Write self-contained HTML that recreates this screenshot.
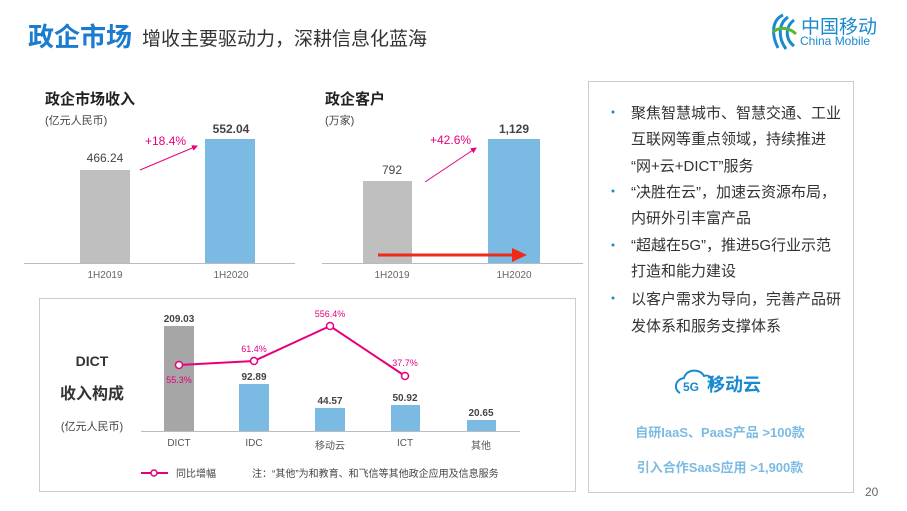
<!DOCTYPE html><html><head><meta charset="utf-8"><style>
body{margin:0;width:907px;height:511px;background:#fff;overflow:hidden;position:relative;font-family:"Liberation Sans","Noto Sans CJK SC",sans-serif}
.a{position:absolute;white-space:nowrap}
</style></head><body>
<div class="a" style="left:28px;top:17px;font-size:26px;font-weight:bold;color:#1a7bd0">政企市场</div>
<div class="a" style="left:142px;top:24px;font-size:19px;color:#333">增收主要驱动力，深耕信息化蓝海</div>
<svg class="a" style="left:768px;top:12px" width="30" height="40"><path d="M15 3 C4 8 3 22 10 36 M20 5 C10 12 10 26 18 37 M26 8 C16 16 18 28 26 34" stroke="#1a8ad0" stroke-width="3" fill="none"/><path d="M5 20 C12 14 22 16 28 22" stroke="#5cb531" stroke-width="3" fill="none"/></svg>
<div class="a" style="left:801px;top:12px;font-size:19px;color:#1a8ad0">中国移动</div>
<div class="a" style="left:800px;top:34px;font-size:12px;color:#1a8ad0">China Mobile</div>

<div class="a" style="left:45px;top:88px;font-size:15px;font-weight:bold;color:#222">政企市场收入</div>
<div class="a" style="left:45px;top:112px;font-size:11px;color:#444">(亿元人民币)</div>
<div class="a" style="left:325px;top:88px;font-size:15px;font-weight:bold;color:#222">政企客户</div>
<div class="a" style="left:325px;top:112px;font-size:11px;color:#444">(万家)</div>

<svg class="a" style="left:0;top:0" width="907" height="511">
<defs><marker id="m" markerWidth="6" markerHeight="6" refX="5" refY="3" orient="auto"><path d="M0,0 L6,3 L0,6z" fill="#e6007e"/></marker></defs>
<rect x="80" y="170" width="50" height="93" fill="#bfbfbf"/>
<rect x="205" y="139" width="50" height="124" fill="#7bbbe3"/>
<line x1="24" y1="263.5" x2="295" y2="263.5" stroke="#bbb"/>
<line x1="140" y1="170" x2="197" y2="146" stroke="#e6007e" marker-end="url(#m)"/>
<rect x="363" y="181" width="49" height="82" fill="#bfbfbf"/>
<rect x="488" y="139" width="52" height="124" fill="#7bbbe3"/>
<line x1="322" y1="263.5" x2="583" y2="263.5" stroke="#bbb"/>
<line x1="425" y1="182" x2="476" y2="148" stroke="#e6007e" marker-end="url(#m)"/>
<line x1="378" y1="255" x2="514" y2="255" stroke="#ee2a18" stroke-width="3"/>
<path d="M512 248 L527 255 L512 262z" fill="#ee2a18"/>
<g font-size="12" fill="#444" text-anchor="middle">
<text x="105" y="162">466.24</text><text x="231" y="133" font-weight="bold">552.04</text>
<text x="392" y="174">792</text><text x="514" y="133" font-weight="bold">1,129</text>
</g>
<g font-size="12" fill="#e6007e"><text x="145" y="145">+18.4%</text><text x="430" y="144">+42.6%</text></g>
<g font-size="10" fill="#666" text-anchor="middle"><text x="105" y="278">1H2019</text><text x="231" y="278">1H2020</text><text x="392" y="278">1H2019</text><text x="514" y="278">1H2020</text></g>

<rect x="588.5" y="81.5" width="265" height="411" fill="none" stroke="#ccc"/>
<rect x="39.5" y="298.5" width="536" height="193" fill="none" stroke="#ccc"/>
<rect x="164" y="326" width="30" height="105" fill="#a6a6a6"/>
<rect x="239" y="384" width="30" height="47" fill="#7bbbe3"/>
<rect x="315" y="408" width="30" height="23" fill="#7bbbe3"/>
<rect x="391" y="405" width="29" height="26" fill="#7bbbe3"/>
<rect x="467" y="420" width="29" height="11" fill="#7bbbe3"/>
<line x1="141" y1="431.5" x2="520" y2="431.5" stroke="#bbb"/>
<polyline points="179,365 254,361 330,326 405,376" fill="none" stroke="#e6007e" stroke-width="2"/>
<g fill="#fff" stroke="#e6007e" stroke-width="1.5"><circle cx="179" cy="365" r="3.5"/><circle cx="254" cy="361" r="3.5"/><circle cx="330" cy="326" r="3.5"/><circle cx="405" cy="376" r="3.5"/></g>
<g font-size="10" fill="#444" font-weight="bold" text-anchor="middle"><text x="179" y="322">209.03</text><text x="254" y="380">92.89</text><text x="330" y="404">44.57</text><text x="405" y="401">50.92</text><text x="481" y="416">20.65</text></g>
<g font-size="9" fill="#e6007e" text-anchor="middle"><text x="179" y="383">55.3%</text><text x="254" y="352">61.4%</text><text x="330" y="317">556.4%</text><text x="405" y="366">37.7%</text></g>
<g font-size="10" fill="#555" text-anchor="middle"><text x="179" y="446">DICT</text><text x="254" y="446">IDC</text><text x="330" y="449">移动云</text><text x="405" y="446">ICT</text><text x="481" y="449">其他</text></g>
<line x1="141" y1="473" x2="168" y2="473" stroke="#e6007e" stroke-width="2"/><circle cx="154" cy="473" r="3" fill="#fff" stroke="#e6007e" stroke-width="1.5"/>
<g font-size="10" fill="#444"><text x="176" y="477">同比增幅</text><text x="252" y="477">注：“其他”为和教育、和飞信等其他政企应用及信息服务</text></g>
<g font-weight="bold" fill="#333" text-anchor="middle"><text x="92" y="366" font-size="14">DICT</text><text x="92" y="399" font-size="16">收入构成</text></g>
<text x="92" y="430" font-size="11" fill="#444" text-anchor="middle">(亿元人民币)</text>
<g fill="#1a8ad0"><circle cx="613" cy="112" r="1.5"/><circle cx="613" cy="191" r="1.5"/><circle cx="613" cy="245" r="1.5"/><circle cx="613" cy="298" r="1.5"/></g>
<g font-size="15" fill="#333"><text x="631" y="118">聚焦智慧城市、智慧交通、工业</text><text x="631" y="144">互联网等重点领域，持续推进</text><text x="631" y="171">“网+云+DICT”服务</text><text x="631" y="197">“决胜在云”，加速云资源布局，</text><text x="631" y="223">内研外引丰富产品</text><text x="631" y="250">“超越在5G”，推进5G行业示范</text><text x="631" y="276">打造和能力建设</text><text x="631" y="304">以客户需求为导向，完善产品研</text><text x="631" y="331">发体系和服务支撑体系</text></g>
<path d="M680 393 C674 390 674 380 684 378 C686 369 700 368 704 376 C710 374 716 380 712 388" fill="none" stroke="#1a8ad0" stroke-width="2"/>
<text x="683" y="391" font-size="12" font-weight="bold" fill="#1a8ad0">5G</text>
<text x="707" y="391" font-size="18" font-weight="bold" fill="#1a8ad0">移动云</text>
<g font-size="13" font-weight="bold" fill="#7bbbe3" text-anchor="middle"><text x="720" y="437">自研IaaS、PaaS产品 &gt;100款</text><text x="720" y="472">引入合作SaaS应用 &gt;1,900款</text></g>
<text x="865" y="496" font-size="12" fill="#666">20</text>
</svg>
</body></html>
